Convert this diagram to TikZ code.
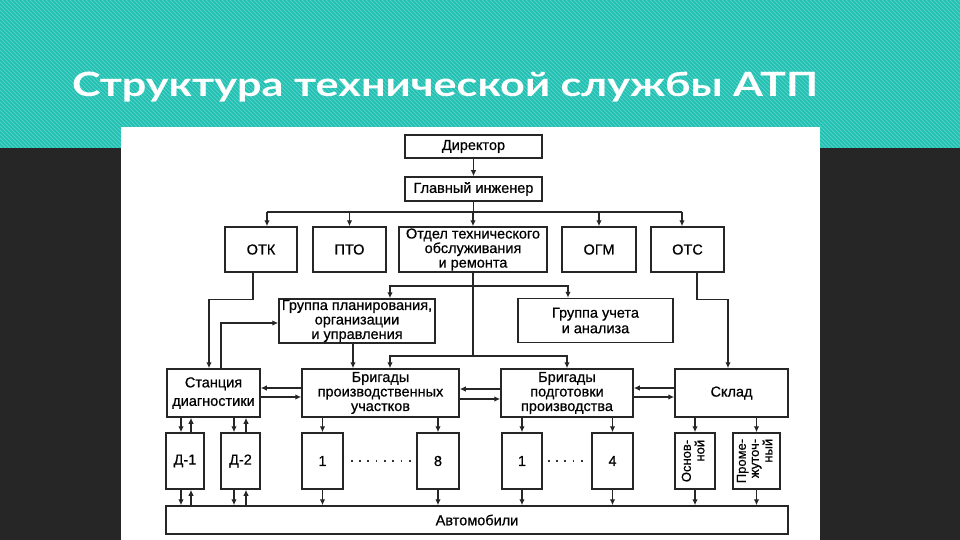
\documentclass[tikz,border=0pt]{standalone}
\usepackage{fontspec}
\setmainfont{Liberation Sans}[FakeBold=0.6]
\newfontfamily\zagfont[FakeStretch=1.29]{Lato}
\usepackage{tikz}
\usetikzlibrary{arrows.meta,calc,positioning}
\definecolor{biruza}{HTML}{1FBFB2}
\definecolor{biruzasvet}{HTML}{7ADDD4}
\definecolor{fonchern}{HTML}{262626}
\tikzset{
  blok/.style={draw=black!85, line width=1.5pt, fill=white, inner sep=0pt, align=center,
    font=\fontsize{14.5}{14.5}\selectfont},
  povorot/.style={font=\fontsize{13}{13}\selectfont},
  svyaz/.style={line width=1.4pt, draw=black!85},
  tochki/.style={line width=1.8pt, draw=black!80, dash pattern=on 1.8pt off 6.5pt},
  >={Latex[length=6pt,width=5.5pt]},
}

\begin{document}
\begin{tikzpicture}[x=1pt,y=-1pt]
\useasboundingbox (0,0) rectangle (960,540);
% fon
\fill[fonchern] (0,0) rectangle (960,540);
\fill[biruza] (0,0) rectangle (960,148);
\begin{scope}
  \clip (0,0) rectangle (960,148);
  \foreach \i in {-150,-146,...,960}
    \draw[biruzasvet, line width=0.8pt, opacity=0.6] (\i,0) -- ++(150,150);
\end{scope}
\fill[white] (121,127) rectangle (820,540);
\node[anchor=base west, text=white, inner sep=0pt,
  font=\zagfont\bfseries\fontsize{33.5}{36}\selectfont] (zag) at (72,97) {Структура технической службы АТП};

% verh
\node[blok, minimum width=137pt, minimum height=23pt] (dir) at (473.5,146.5) {Директор};
\node[blok, minimum width=137pt, minimum height=24pt] (glav) at (473.5,189) {Главный инженер};
\node[blok, minimum width=72pt, minimum height=45pt] (otk) at (261,249.5) {ОТК};
\node[blok, minimum width=73pt, minimum height=45pt] (pto) at (349.5,249.5) {ПТО};
\node[blok, minimum width=148pt, minimum height=45pt] (oto) at (473,249.5) {Отдел технического\\обслуживания\\и ремонта};
\node[blok, minimum width=74pt, minimum height=45pt] (ogm) at (599,249.5) {ОГМ};
\node[blok, minimum width=73pt, minimum height=45pt] (ots) at (687.5,249.5) {ОТС};
% gruppy
\node[blok, minimum width=156pt, minimum height=44pt] (gpl) at (357,321) {Группа планирования,\\организации\\и управления};
\node[blok, minimum width=155pt, minimum height=44pt] (guch) at (595.5,320.5) {Группа учета\\[1pt]и анализа};
% brigady
\node[blok, minimum width=93pt, minimum height=48pt] (stan) at (213.5,393) {Станция\\[4pt]диагностики};
\node[blok, minimum width=157pt, minimum height=48pt] (brp) at (380.5,393) {Бригады\\производственных\\участков};
\node[blok, minimum width=132pt, minimum height=48pt] (brpod) at (567,393) {Бригады\\подготовки\\производства};
\node[blok, minimum width=113pt, minimum height=48pt] (sklad) at (731.5,393) {Склад};
% niz
\node[blok, minimum width=38pt, minimum height=56pt] (d1) at (185,461) {Д-1};
\node[blok, minimum width=39pt, minimum height=56pt] (d2) at (240.5,461) {Д-2};
\node[blok, minimum width=41pt, minimum height=56pt] (p1) at (322.5,461) {1};
\node[blok, minimum width=42pt, minimum height=56pt] (p8) at (438,461) {8};
\node[blok, minimum width=40pt, minimum height=56pt] (q1) at (522,461) {1};
\node[blok, minimum width=41pt, minimum height=56pt] (q4) at (612.5,461) {4};
\node[blok, povorot, minimum width=40pt, minimum height=56pt] (osn) at (695,461)
  {\rotatebox{90}{\begin{tabular}{@{}r@{}}Основ-\\ной\end{tabular}}};
\node[blok, povorot, minimum width=47pt, minimum height=56pt] (prom) at (756.5,461)
  {\rotatebox{90}{\begin{tabular}{@{}r@{}}Проме-\\жуточ-\\ный\end{tabular}}};
\node[blok, minimum width=622pt, minimum height=28pt] (auto) at (477,520) {Автомобили};

% svyazi
\coordinate (shina) at (473.5,212);
\coordinate (razv1) at (473,286);
\coordinate (razv2) at (473,356);
\draw[svyaz,->] (dir) -- (glav);
\draw[svyaz] (glav) -- (shina);
\draw[svyaz] ([xshift=6pt]otk.north |- shina) -- ([xshift=-5.5pt]ots.north |- shina);
\foreach \n/\s in {otk/6,pto/0,oto/0,ogm/0,ots/-5.5}
  \draw[svyaz,->] ([xshift=\s pt]\n.north |- shina) -- ([xshift=\s pt]\n.north);
\draw[svyaz] (oto) -- (razv2);
\draw[svyaz,->] (razv1) -| ([xshift=33pt]gpl.north);
\draw[svyaz,->] (razv1) -| ([xshift=-27.5pt]guch.north);
\draw[svyaz,->] (razv2) -| ([xshift=9.5pt]brp.north);
\draw[svyaz,->] (razv2) -| (brpod.north);
\draw[svyaz,->] ([xshift=-4pt]gpl.south) -- ([xshift=-4pt]gpl.south |- brp.north);
\draw[svyaz,->] ([xshift=-8pt]otk.south) -- ++(0,27) -| ([xshift=-4.5pt]stan.north);
\draw[svyaz,->] ([xshift=7.5pt]stan.north) |- ([yshift=-2pt]gpl.west);
\draw[svyaz,->] ([xshift=9.5pt]ots.south) -- ++(0,27) -| ([xshift=-3.5pt]sklad.north);
% gorizontalnye pary
\draw[svyaz,->] ([yshift=5pt]brp.west) -- ([yshift=5pt]stan.east);
\draw[svyaz,->] ([yshift=-4pt]stan.east) -- ([yshift=-4pt]brp.west);
\draw[svyaz,->] ([yshift=4pt]brpod.west) -- ([yshift=4pt]brp.east);
\draw[svyaz,->] ([yshift=-6pt]brp.east) -- ([yshift=-6pt]brpod.west);
\draw[svyaz,->] ([yshift=5pt]sklad.west) -- ([yshift=5pt]brpod.east);
\draw[svyaz,->] ([yshift=-4pt]brpod.east) -- ([yshift=-4pt]sklad.west);
% diagnostika
\foreach \n/\a/\b in {d1/-4/6, d2/-6.5/5.5} {
  \draw[svyaz,->] ([xshift=\a pt]\n.north |- stan.south) -- ([xshift=\a pt]\n.north);
  \draw[svyaz,->] ([xshift=\b pt]\n.north) -- ([xshift=\b pt]\n.north |- stan.south);
  \draw[svyaz,->] ([xshift=\a pt]\n.south) -- ([xshift=\a pt]\n.south |- auto.north);
  \draw[svyaz,->] ([xshift=\b pt]\n.south |- auto.north) -- ([xshift=\b pt]\n.south);
}
\foreach \n/\v in {p1/brp, p8/brp, q1/brpod, q4/brpod, osn/sklad, prom/sklad} {
  \draw[svyaz,->] (\n.north |- \v.south) -- (\n.north);
  \draw[svyaz,->] (\n.south) -- (\n.south |- auto.north);
}
\draw[tochki] ([xshift=7pt]p1.east) -- ([xshift=-4pt]p8.west);
\draw[tochki] ([xshift=5pt]q1.east) -- ([xshift=-7pt]q4.west);
\end{tikzpicture}
\end{document}
